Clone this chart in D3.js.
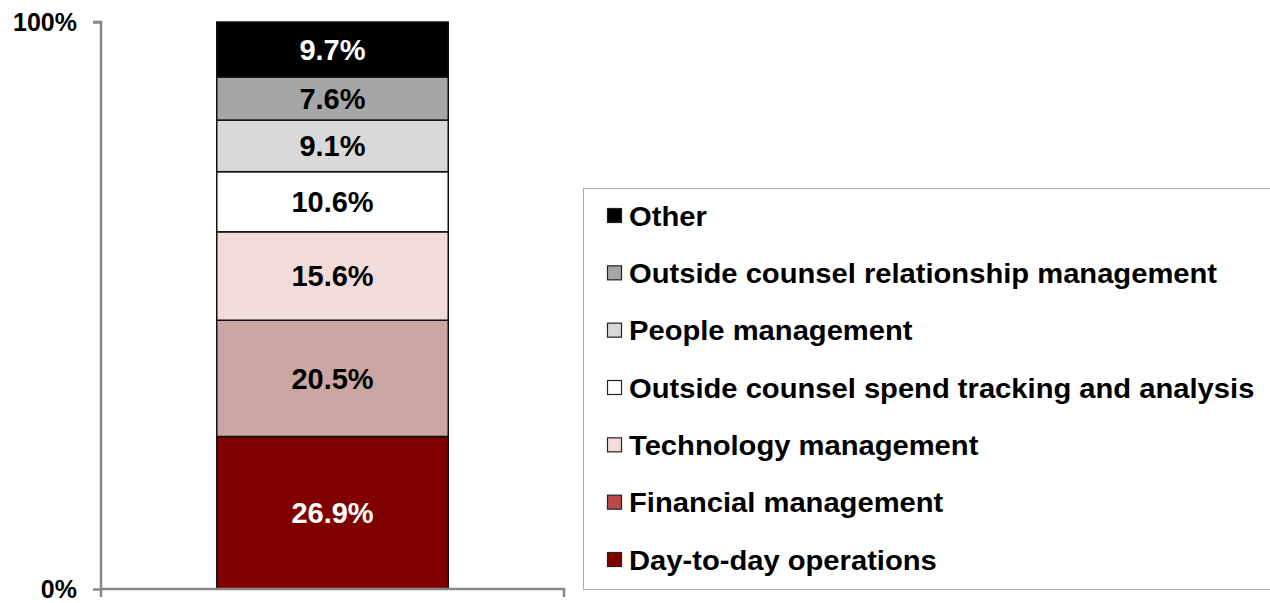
<!DOCTYPE html>
<html><head><meta charset="utf-8">
<script src="https://cdn.jsdelivr.net/npm/d3@7/dist/d3.min.js"></script>
<style>body{margin:0;background:#fff}svg{display:block}text{font-family:"Liberation Sans",Arial,sans-serif;font-weight:bold}</style>
</head><body><svg id="c" width="1270" height="603"></svg>
<script>
const categories = ["Day-to-day operations","Financial management","Technology management","Outside counsel spend tracking and analysis","People management","Outside counsel relationship management","Other"];
const values = [26.9, 20.5, 15.6, 10.6, 9.1, 7.6, 9.7];
const barColors = ["#800000","#cca6a3","#f2dcdb","#ffffff","#d9d9d9","#a6a6a6","#000000"];
const legendColors = ["#800000","#b84a4a","#f2dcdb","#ffffff","#d9d9d9","#a6a6a6","#000000"];
const labelColors = ["#fff","#000","#000","#000","#000","#000","#fff"];
const yTicks = [0, 100];

const svg = d3.select("#c");
const y = d3.scaleLinear().domain([0,100]).range([589,22]);
const x = d3.scaleBand().domain(["bar"]).range([101,564]).paddingInner(0).paddingOuter(0.5);

let cum = 0;
const stacks = values.map((v,i)=>{const s={y0:cum,y1:cum+v,v,i};cum+=v;return s;});

const g = svg.append("g");
g.selectAll("rect.seg").data(stacks).join("rect")
  .attr("x", x("bar")).attr("width", x.bandwidth())
  .attr("y", d=>y(d.y1)).attr("height", d=>y(d.y0)-y(d.y1))
  .attr("fill", d=>barColors[d.i]).attr("stroke","#111").attr("stroke-width",1.5);
g.selectAll("text.lab").data(stacks).join("text")
  .attr("x", x("bar")+x.bandwidth()/2).attr("y", d=>y((d.y0+d.y1)/2))
  .attr("dy","0.36em").attr("text-anchor","middle").attr("font-size",29)
  .attr("fill", d=>labelColors[d.i]).text(d=>d.v.toFixed(1)+"%");

// axes
const yAxis = d3.axisLeft(y).tickValues(yTicks).tickSize(8).tickFormat(d=>d+"%");
const ya = svg.append("g").attr("transform","translate(101,0)").call(yAxis);
ya.select(".domain").attr("stroke","#888").attr("stroke-width",2.5).attr("d","M-8,22H0V589");
ya.selectAll(".tick line").attr("stroke","#888").attr("stroke-width",2.5);
ya.selectAll(".tick text").attr("font-size",25).attr("fill","#000").attr("x",-24).attr("dy","0.35em")
  .attr("font-family","Liberation Sans, Arial, sans-serif").attr("font-weight","bold");
svg.append("path").attr("d",`M101,589H564V597`).attr("fill","none").attr("stroke","#888").attr("stroke-width",2.5);
svg.append("path").attr("d","M101,589V597").attr("stroke","#888").attr("stroke-width",2.5);

// legend
const lg = svg.append("g");
lg.append("rect").attr("x",583.5).attr("y",188.5).attr("width",700).attr("height",401).attr("fill","#fff").attr("stroke","#aaa").attr("stroke-width",1);
const order = d3.range(categories.length).reverse();
const ly = d3.scalePoint().domain(order).range([216,560]);
const items = lg.selectAll("g.it").data(order).join("g").attr("transform",i=>`translate(607,${ly(i)})`);
items.append("rect").attr("x",0.5).attr("y",-7.5).attr("width",14).attr("height",14)
  .attr("fill",i=>legendColors[i]).attr("stroke","#222").attr("stroke-width",1.2);
items.append("text").attr("transform","translate(22,0) scale(1.08,1)").attr("dy","0.36em").attr("font-size",27).attr("fill","#000")
  .text(i=>categories[i]);
</script></body></html>
